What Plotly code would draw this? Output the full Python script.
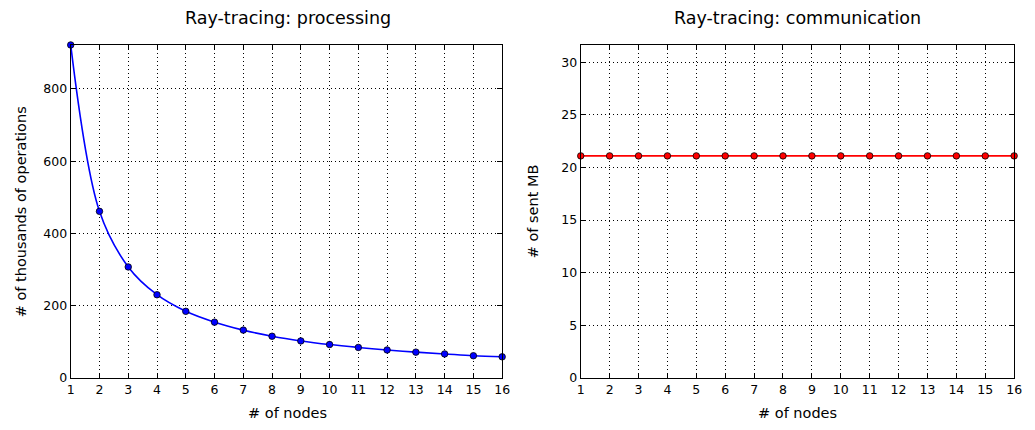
import plotly.graph_objects as go

# Ray-tracing benchmark measurements per number of nodes
nodes = list(range(1, 17))
thousand_ops = [922, 461, 307, 230, 184, 154, 132, 115, 102, 92, 84, 77, 71, 66, 61, 58]
sent_mb = [21.1] * 16
x_ticks = list(range(1, 17))

FONT = "DejaVu Sans"
W, H = 1035, 430

fig = go.Figure()

fig.add_trace(go.Scatter(
    x=nodes, y=thousand_ops, mode="lines+markers",
    line=dict(color="#0000ff", width=1.6, shape="spline", smoothing=1.0),
    marker=dict(color="#0000ff", size=6.5, line=dict(color="black", width=0.8)),
    xaxis="x", yaxis="y", showlegend=False, cliponaxis=False,
))
fig.add_trace(go.Scatter(
    x=nodes, y=sent_mb, mode="lines+markers",
    line=dict(color="#ff0000", width=1.6),
    marker=dict(color="#ff0000", size=6.5, line=dict(color="black", width=0.8)),
    xaxis="x2", yaxis="y2", showlegend=False, cliponaxis=False,
))

def px_x(p):
    return p / W

def px_y(p):
    return 1 - p / H

common = dict(
    showline=True, linecolor="black", linewidth=1.2, mirror="allticks",
    ticks="inside", ticklen=5, tickcolor="black", tickwidth=1,
    showgrid=True, gridcolor="black", gridwidth=1, griddash="1px,3px",
    zeroline=False, tickfont=dict(family=FONT, size=12.5, color="black"),
)

fig.update_layout(
    width=W, height=H,
    margin=dict(l=0, r=0, t=0, b=0),
    paper_bgcolor="white", plot_bgcolor="white",
    font=dict(family=FONT, color="black"),
    xaxis=dict(domain=[px_x(67.5), px_x(504)], range=[1, 16],
               tickvals=x_ticks, anchor="y", **common),
    yaxis=dict(domain=[px_y(384), px_y(45.7)], range=[0, 922],
               tickvals=[0, 200, 400, 600, 800], anchor="x", **common),
    xaxis2=dict(domain=[px_x(583.5), px_x(1022)], range=[1, 16],
                tickvals=x_ticks, anchor="y2", **common),
    yaxis2=dict(domain=[px_y(384), px_y(45.7)], range=[0, 31.65],
                tickvals=[0, 5, 10, 15, 20, 25, 30], anchor="x2", **common),
)

ann = [
    dict(text="Ray-tracing: processing", x=px_x(287), y=px_y(18), size=17.5),
    dict(text="Ray-tracing: communication", x=px_x(803), y=px_y(18), size=17.5),
    dict(text="# of nodes", x=px_x(287), y=px_y(420), size=14.5),
    dict(text="# of nodes", x=px_x(803), y=px_y(420), size=14.5),
]
for a in ann:
    fig.add_annotation(text=a["text"], x=a["x"], y=a["y"], xref="paper", yref="paper",
                       showarrow=False, xanchor="center", yanchor="middle",
                       font=dict(family=FONT, size=a["size"], color="black"))

fig.add_annotation(text="# of thousands of operations", x=px_x(17), y=px_y(215),
                   xref="paper", yref="paper", showarrow=False, textangle=-90,
                   xanchor="center", yanchor="middle",
                   font=dict(family=FONT, size=14.5, color="black"))
fig.add_annotation(text="# of sent MB", x=px_x(535), y=px_y(215),
                   xref="paper", yref="paper", showarrow=False, textangle=-90,
                   xanchor="center", yanchor="middle",
                   font=dict(family=FONT, size=14.5, color="black"))

fig.write_html("out.html")
